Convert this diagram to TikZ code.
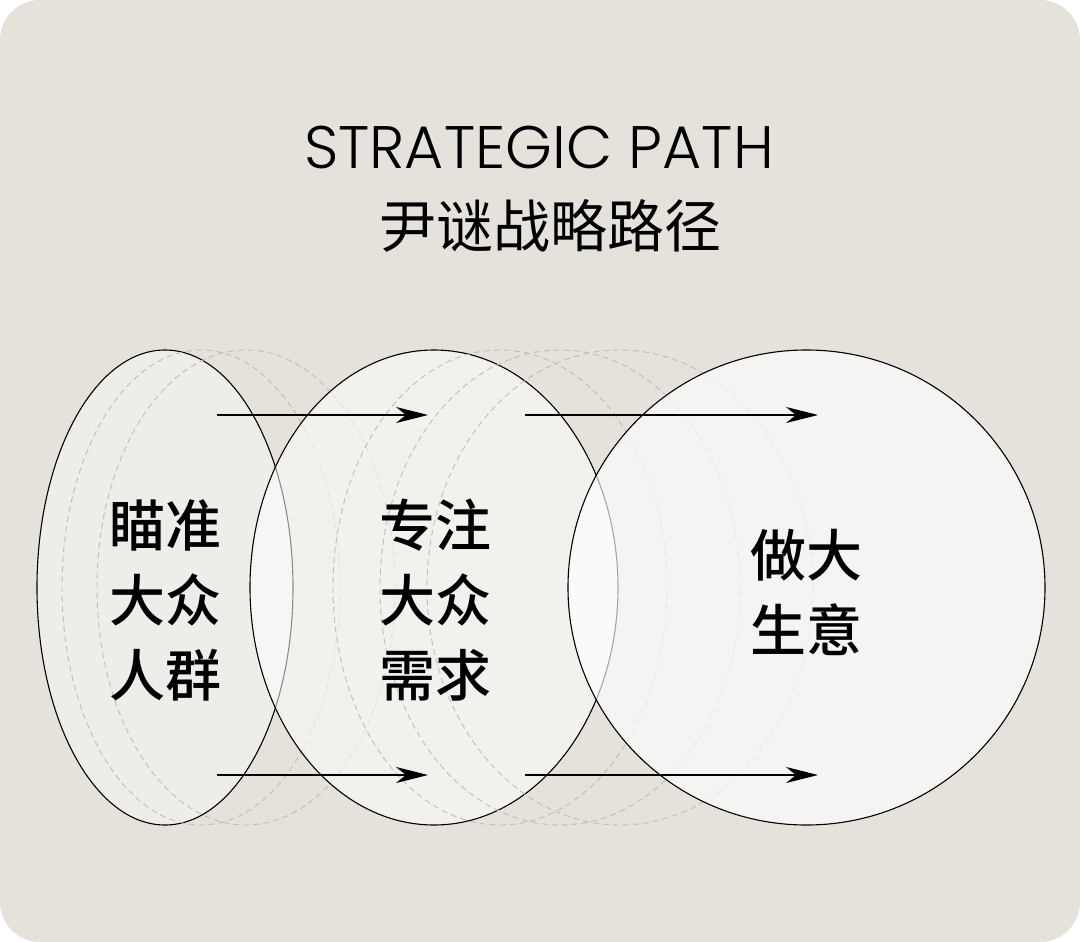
\documentclass[tikz,border=0pt]{standalone}
\usepackage{fontspec}
\IfFontExistsTF{Poppins Light}{\setmainfont{Poppins Light}}{\setmainfont{Poppins}}
\newfontfamily\cjk{Noto Sans CJK SC}
\IfFontExistsTF{Noto Sans CJK SC Medium}{\newfontfamily\cjkmed{Noto Sans CJK SC Medium}}{\newcommand\cjkmed{\cjk\bfseries}}
\usetikzlibrary{shapes.geometric,arrows.meta}
\definecolor{bgcol}{HTML}{E5E2DB}
\definecolor{dashcol}{HTML}{BDBDBB}
\begin{document}
\begin{tikzpicture}[x=1pt,y=-1pt,
  solidell/.style={ellipse, draw=black, line width=1.1pt, fill=white, inner sep=0pt, minimum height=475pt},
  dashell/.style={ellipse, draw=dashcol, line width=0.9pt, dash pattern=on 6pt off 4pt, inner sep=0pt, minimum height=475pt},
  lbl/.style={font=\cjkmed\fontsize{56}{75}\selectfont, align=center, inner sep=0pt, text=black},
  flow/.style={line width=1.1pt, -{Stealth[length=32pt,width=16pt,inset=10pt]}}
]
\useasboundingbox (0,0) rectangle (1080,942);
\fill[white] (0,0) rectangle (1080,942);
\fill[bgcol, rounded corners=40pt] (0,0) rectangle (1080,942);

% title
\node[font=\fontsize{60}{60}\selectfont, anchor=base, inner sep=0pt] (title) at (539,168) {STRATEGIC PATH};
\node[font=\cjk\fontsize{57}{57}\selectfont, inner sep=0pt] (subtitle) at (550,226) {尹谜战略路径};

% stage 1
\node[solidell, fill opacity=0.4, minimum width=256pt] (e1) at (165,587.5) {};
\node[dashell, minimum width=278pt] (d1) at (201,587.5) {};
\node[dashell, minimum width=298pt] (d2) at (246,587.5) {};
% stage 2
\node[solidell, fill opacity=0.55, minimum width=368pt] (e2) at (434,587.5) {};
\node[dashell, minimum width=334pt] (d3) at (500,587.5) {};
\node[dashell, minimum width=360pt] (d4) at (560,587.5) {};
\node[dashell, minimum width=386pt] (d5) at (620,587.5) {};
% stage 3
\node[solidell, fill opacity=0.65, minimum width=477pt] (e3) at (806.5,587.5) {};

% labels
\node[lbl] (t1) at (165,600) {瞄准\\大众\\人群};
\node[lbl] (t2) at (435,600) {专注\\大众\\需求};
\node[lbl] (t3) at (806,592) {做大\\生意};

% arrows
\coordinate (a1s) at (217,415); \coordinate (a1e) at (428,415);
\coordinate (a2s) at (525,415); \coordinate (a2e) at (818,415);
\coordinate (b1s) at (217,775); \coordinate (b1e) at (428,775);
\coordinate (b2s) at (525,775); \coordinate (b2e) at (818,775);
\draw[flow] (a1s) -- (a1e);
\draw[flow] (a2s) -- (a2e);
\draw[flow] (b1s) -- (b1e);
\draw[flow] (b2s) -- (b2e);
\end{tikzpicture}
\end{document}
